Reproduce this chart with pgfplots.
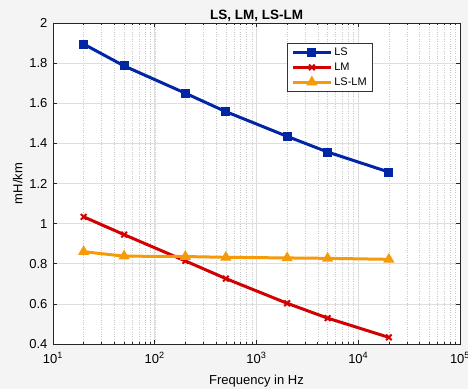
\documentclass[border=0pt]{standalone}
\usepackage{fontspec}
\setmainfont{Liberation Sans}
\usepackage{pgfplots}
\pgfplotsset{compat=1.18}
\definecolor{bgc}{RGB}{244,244,244}
\definecolor{cLS}{RGB}{0,38,166}
\definecolor{cLM}{RGB}{210,0,0}
\definecolor{cLD}{RGB}{245,155,10}
\begin{document}
\begin{tikzpicture}[x=1pt,y=1pt]
\clip (0,0) rectangle (468,389);
\fill[bgc] (0,0) rectangle (468,389);
\begin{axis}[
  at={(53pt,45pt)}, anchor=south west,
  scale only axis, width=407pt, height=321pt,
  xmode=log, xmin=10, xmax=100000, ymin=0.4, ymax=2,
  axis background/.style={fill=white},
  xtick={10,100,1000,10000,100000},
  xticklabels={10\textsuperscript{1},10\textsuperscript{2},10\textsuperscript{3},10\textsuperscript{4},10\textsuperscript{5}},
  ytick={0.4,0.6,0.8,1,1.2,1.4,1.6,1.8,2},
  yticklabels={0.4,0.6,0.8,1,1.2,1.4,1.6,1.8,2},
  minor y tick num=0,
  grid=both,
  major grid style={draw=black!13, line width=0.7pt},
  minor grid style={draw=black!22, dotted, line width=0.5pt},
  axis line style={draw=black!85, line width=0.8pt},
  tick align=inside, major tick length=4pt, minor tick length=2pt,
  tick style={draw=black!85, line width=0.6pt},
  ticklabel style={font=\fontsize{13}{15}\selectfont},
  xticklabel style={yshift=-5pt},
  yticklabel style={xshift=-2pt},
  title={\bfseries LS, LM, LS-LM},
  title style={font=\fontsize{13.5}{16}\selectfont, yshift=-8pt},
  xlabel={Frequency in Hz}, ylabel={mH/km},
  label style={font=\fontsize{13}{15}\selectfont},
  xlabel style={yshift=-5pt},
  legend style={at={(0.575,0.938)}, anchor=north west,
    font=\fontsize{11}{13}\selectfont, draw=black!80, line width=0.6pt,
    fill=white, row sep=1.5pt, inner xsep=4pt, inner ysep=3pt},
  legend cell align=left,
  legend image code/.code={\draw[mark repeat=2,mark phase=2] plot coordinates {(0pt,0pt) (19pt,0pt) (38pt,0pt)};},
  every axis plot/.append style={line width=3pt, mark size=3pt, mark options={solid, line width=2pt}},
]
\addplot[color=cLS, mark=square*, mark options={fill=cLS}] coordinates {
 (20,1.895) (50,1.786) (200,1.650) (500,1.558) (2000,1.435) (5000,1.357) (20000,1.257)};
\addlegendentry{LS}
\addplot[color=cLM, mark=x, mark size=4pt] coordinates {
 (20,1.034) (50,0.945) (200,0.814) (500,0.726) (2000,0.603) (5000,0.529) (20000,0.433)};
\addlegendentry{LM}
\addplot[color=cLD, mark=triangle*, mark size=3.5pt, mark options={fill=cLD}] coordinates {
 (20,0.860) (50,0.838) (200,0.836) (500,0.832) (2000,0.829) (5000,0.827) (20000,0.822)};
\addlegendentry{LS-LM}
\end{axis}
\end{tikzpicture}
\end{document}
